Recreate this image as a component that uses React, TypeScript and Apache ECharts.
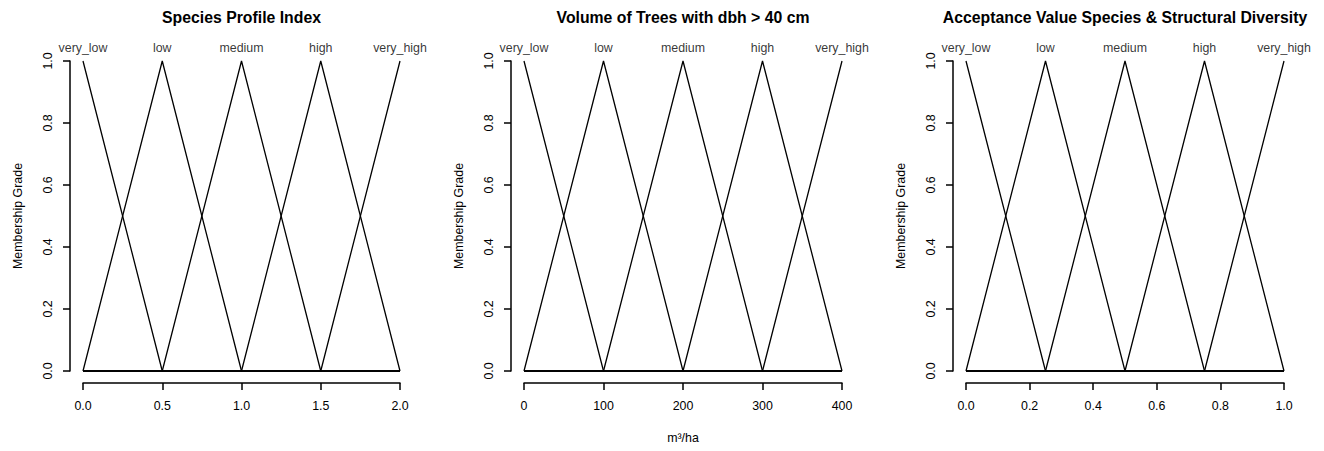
import React, { useEffect, useRef } from "react";
import * as echarts from "echarts";

// ---- data ----
const panelTitles = [
  "Species Profile Index",
  "Volume of Trees with dbh > 40 cm",
  "Acceptance Value Species & Structural Diversity",
];
const termLabels = ["very_low", "low", "medium", "high", "very_high"];

// breakpoints (peaks) of the triangular membership functions per panel
const spiBreaks = [0, 0.5, 1.0, 1.5, 2.0];
const volumeBreaks = [0, 100, 200, 300, 400];
const acceptanceBreaks = [0, 0.25, 0.5, 0.75, 1.0];

// membership grade of each term at each breakpoint
const veryLowGrades = [1, 0, 0, 0, 0];
const lowGrades = [0, 1, 0, 0, 0];
const mediumGrades = [0, 0, 1, 0, 0];
const highGrades = [0, 0, 0, 1, 0];
const veryHighGrades = [0, 0, 0, 0, 1];

const xTickIntervals = [0.5, 100, 0.2];
const xDecimals = [1, 0, 1];
const xAxisNames = ["", "m³/ha", ""];
const yAxisName = "Membership Grade";

const FONT = "'Liberation Sans', Arial, Helvetica, sans-serif";

export default function App() {
  const ref = useRef<HTMLDivElement>(null);

  useEffect(() => {
    document.body.style.margin = "0";
    if (!ref.current) return;
    const chart = echarts.init(ref.current, undefined, { renderer: "svg" });

    const breaksList = [spiBreaks, volumeBreaks, acceptanceBreaks];
    const gradeList = [veryLowGrades, lowGrades, mediumGrades, highGrades, veryHighGrades];
    const lefts = [83, 524, 966];
    const widths = [317, 318, 318];
    const top = 61;
    const height = 310;
    const LW = 1.3;
    const AXW = 1.5;
    const AX = "#000";

    const grid: any[] = [];
    const xAxis: any[] = [];
    const yAxis: any[] = [];
    const series: any[] = [];
    const graphic: any[] = [];

    breaksList.forEach((breaks, p) => {
      grid.push({ left: lefts[p], top, width: widths[p], height });
      xAxis.push({
        type: "value",
        gridIndex: p,
        position: "bottom",
        min: breaks[0],
        max: breaks[breaks.length - 1],
        interval: xTickIntervals[p],
        offset: 12,
        name: xAxisNames[p],
        nameLocation: "middle",
        nameGap: 49,
        nameTextStyle: { color: "#000", fontSize: 12.4, fontFamily: FONT },
        axisLine: { show: true, onZero: false, lineStyle: { color: AX, width: AXW } },
        axisTick: { show: true, length: 7, lineStyle: { color: AX, width: AXW } },
        axisLabel: {
          color: "#000",
          fontSize: 12.4,
          fontFamily: FONT,
          margin: 17,
          formatter: (v: number) => v.toFixed(xDecimals[p]),
        },
        splitLine: { show: false },
      });
      yAxis.push({
        type: "value",
        gridIndex: p,
        position: "left",
        min: 0,
        max: 1,
        interval: 0.2,
        offset: 13,
        name: yAxisName,
        nameLocation: "middle",
        nameRotate: 90,
        nameGap: 46,
        nameTextStyle: { color: "#000", fontSize: 12.4, fontFamily: FONT },
        axisLine: { show: true, onZero: false, lineStyle: { color: AX, width: AXW } },
        axisTick: { show: true, length: 7, lineStyle: { color: AX, width: AXW } },
        axisLabel: {
          color: "#000",
          fontSize: 12.4,
          fontFamily: FONT,
          rotate: 90,
          margin: 16,
          formatter: (v: number) => v.toFixed(1),
        },
        splitLine: { show: false },
      });

      gradeList.forEach((grades, t) => {
        series.push({
          type: "line",
          xAxisIndex: p,
          yAxisIndex: p,
          name: termLabels[t],
          data: breaks.map((x, i) => [x, grades[i]]),
          symbol: "none",
          lineStyle: { color: "#000", width: LW },
          silent: true,
          clip: false,
        });
      });

      series.push({
        type: "scatter",
        xAxisIndex: p,
        yAxisIndex: p,
        symbolSize: 2,
        itemStyle: { color: "transparent" },
        silent: true,
        data: breaks.map((x, i) => ({
          value: [x, gradeList[i][i]],
          label: {
            show: true,
            position: "top",
            distance: 6,
            formatter: termLabels[i],
            color: "#000",
            fontSize: 12.4,
            fontFamily: FONT,
          },
        })),
      });

      graphic.push({
        type: "text",
        x: lefts[p] + widths[p] / 2,
        y: 17,
        style: {
          text: panelTitles[p],
          align: "center",
          verticalAlign: "middle",
          fontSize: 15.8,
          fontWeight: "bold",
          fontFamily: FONT,
          fill: "#000",
        },
      });
    });

    chart.setOption({
      animation: false,
      backgroundColor: "#fff",
      grid,
      xAxis,
      yAxis,
      series,
      graphic,
    });

    return () => chart.dispose();
  }, []);

  return <div ref={ref} style={{ width: 1324, height: 451 }} />;
}
